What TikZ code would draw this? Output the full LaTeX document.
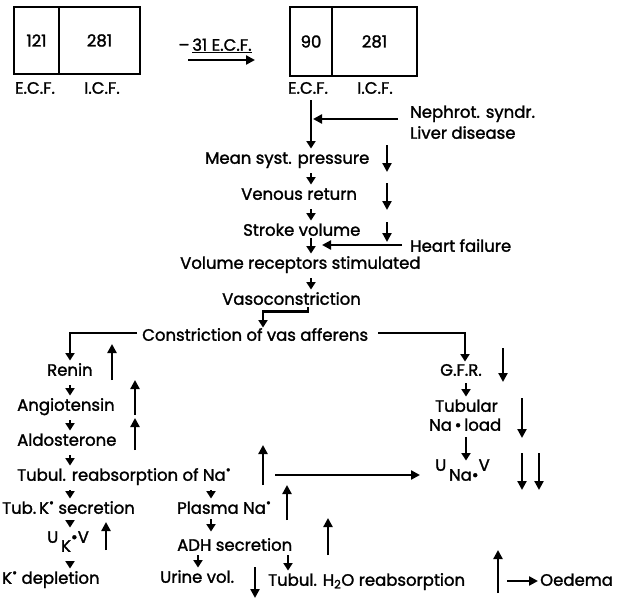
\documentclass[tikz,border=0pt]{standalone}
\usepackage{fontspec}
\setmainfont{Poppins}[FakeBold=1.6]
\usetikzlibrary{arrows.meta}
\newcommand\mydot{\raisebox{0.75ex}{\scalebox{0.75}{\textbullet}}}
\newcommand\fs{\fontsize{16.5}{19}\selectfont}
\tikzset{
  txt/.style={inner sep=0pt, anchor=west, text height=15pt, text depth=3.5pt, font=\fs},
  lab/.style={txt, anchor=center},
  comp/.style={draw, line width=2pt, inner sep=0pt, font=\fs},
  con/.style={line width=2.6pt, -{Triangle[length=7.5pt,width=9pt]}, shorten <=6pt},
  ind/.style={line width=2.6pt, -{Triangle[length=9pt,width=9pt]}},
  longarr/.style={line width=2.4pt, -{Triangle[length=9pt,width=9pt]}},
}
\begin{document}
\begin{tikzpicture}[x=1pt,y=-1pt]
\useasboundingbox (0,0) rectangle (618,599);
% top boxes
\node[comp, minimum width=45pt, minimum height=67pt] (e1) at (36.5,40.5) {121};
\node[comp, minimum width=81pt, minimum height=67pt] (i1) at (99.5,40.5) {281};
\node[lab] (e1l) at (35,88) {E.C.F.};
\node[lab] (i1l) at (102,88) {I.C.F.};
\node[lab] (shift) at (215,45) {--\,\underline{31 E.C.F.}};
\coordinate (sa) at (188,60);
\coordinate (sb) at (255,60);
\draw[longarr] (sa) -- (sb);
\node[comp, minimum width=42pt, minimum height=69pt] (e2) at (311,41.5) {90};
\node[comp, minimum width=85pt, minimum height=69pt] (i2) at (374.5,41.5) {281};
\node[lab] (e2l) at (308,88) {E.C.F.};
\node[lab] (i2l) at (375,88) {I.C.F.};
% column coordinates
\coordinate (cm) at (311,0);
\coordinate (cv) at (308,0);
\coordinate (ca) at (263,0);
\coordinate (cl) at (70,0);
\coordinate (cg) at (465,0);
\coordinate (cg2) at (466,0);
\coordinate (cp) at (211,0);
\coordinate (cu) at (198,0);
\coordinate (ch) at (288,0);
% text nodes
\node[txt] (nephrot) at (410,112) {Nephrot. syndr.};
\node[txt] (liver) at (410,133) {Liver disease};
\node[txt] (mean) at (205,158) {Mean syst. pressure};
\node[txt] (venous) at (241,194) {Venous return};
\node[txt] (stroke) at (243,230) {Stroke volume};
\node[txt] (heart) at (410,246) {Heart failure};
\node[txt] (volrec) at (180,263) {Volume receptors stimulated};
\node[txt] (vaso) at (222,299) {Vasoconstriction};
\node[txt] (constr) at (142,335) {Constriction of vas afferens};
\node[txt] (renin) at (47,370) {Renin};
\node[txt] (angio) at (17,405) {Angiotensin};
\node[txt] (aldo) at (17,440) {Aldosterone};
\node[txt] (tubreab) at (17,475) {Tubul. reabsorption of Na\mydot};
\node[txt] (gfr) at (440,370) {G.F.R.};
\node[txt] (tubular) at (435,406) {Tubular};
\node[txt] (naload) at (429,425) {Na\,\textbullet\,load};
\node[txt] (una) at (435,465) {U\,\raisebox{-1.1ex}{Na\textbullet}V};
\node[txt] (tubk) at (2,508) {Tub.\,K\mydot\ secretion};
\node[txt] (uk) at (47,537) {U\,\raisebox{-1.0ex}{K}\textbullet V};
\node[txt] (kdep) at (2,578) {K\mydot\ depletion};
\node[txt] (plasma) at (177,508) {Plasma Na\mydot};
\node[txt] (adh) at (177,545) {ADH secretion};
\node[txt] (urine) at (160,577) {Urine vol.};
\node[txt] (tubh2o) at (268,580) {Tubul. H\textsubscript{2}O reabsorption};
\node[txt] (oedema) at (540,580) {Oedema};
% connectors, main column
\draw[con, shorten <=3pt] (e2l.south -| cm) -- (mean.north -| cm);
\coordinate (nj) at (313,119);
\draw[longarr] ([xshift=-12pt,yshift=-7pt]nephrot.west) -- (nj);
\draw[con] (mean.south -| cm) -- (venous.north -| cm);
\draw[con] (venous.south -| cm) -- (stroke.north -| cm);
\draw[con, shorten <=-1pt] (stroke.south -| cm) -- (volrec.north -| cm);
\coordinate (hj) at (322,245);
\draw[longarr] ([xshift=-8pt,yshift=1pt]heart.west) -- (hj);
\draw[con] (volrec.south -| cm) -- (vaso.north -| cm);
\draw[con, shorten <=-1pt, shorten >=-2pt] (vaso.south -| cv) -- ++(0,3) -| (constr.north -| ca);
% branches
\draw[con, shorten <=0pt] ([xshift=-5pt,yshift=2pt]constr.west) -| (renin.north -| cl);
\draw[con, shorten <=0pt, shorten >=-1pt] ([xshift=10pt,yshift=2pt]constr.east) -| (gfr.north -| cg);
% left column
\draw[con] (renin.south -| cl) -- (angio.north -| cl);
\draw[con] (angio.south -| cl) -- (aldo.north -| cl);
\draw[con] (aldo.south -| cl) -- (tubreab.north -| cl);
\draw[con] (tubreab.south -| cl) -- (tubk.north -| cl);
\draw[con, shorten <=3pt] (tubk.south -| cl) -- (uk.north -| cl);
\draw[con, shorten <=16pt] (uk.south -| cl) -- (kdep.north -| cl);
% middle column
\draw[con] (tubreab.south -| cp) -- (plasma.north -| cp);
\draw[con, shorten <=2pt, shorten >=4pt] (plasma.south -| cp) -- (adh.north -| cp);
\draw[con, shorten <=1pt] (adh.south -| cu) -- (urine.north -| cu);
\draw[con, shorten <=1pt] (adh.south -| ch) -- (tubh2o.north -| ch);
% right column
\draw[con, shorten <=4pt] (gfr.south -| cg2) -- (tubular.north -| cg2);
\draw[con, shorten <=3pt, shorten >=-5pt] (naload.south -| cg2) -- (una.north -| cg2);
\coordinate (ls) at (275,475);
\draw[longarr, shorten >=15pt] (ls) -- (ls -| una.west);
\coordinate (o1) at (507,581);
\draw[longarr, shorten >=2pt] (o1) -- (o1 -| oedema.west);
% indicator arrows
\draw[ind] (387,145) -- (387,172);
\draw[ind] (387,183) -- (387,210);
\draw[ind] (387,222) -- (387,242);
\draw[ind] (112,380) -- (112,344);
\draw[ind] (135,415) -- (135,380);
\draw[ind] (135,450) -- (135,418);
\draw[ind] (263,485) -- (263,445);
\draw[ind] (503,348) -- (503,382);
\draw[ind] (522,398) -- (522,438);
\draw[ind] (522,453) -- (522,490);
\draw[ind] (539,453) -- (539,490);
\draw[ind] (106,550) -- (106,522);
\draw[ind] (287,520) -- (287,485);
\draw[ind] (328,555) -- (328,518);
\draw[ind] (255,567) -- (255,598);
\draw[ind] (498,593) -- (498,550);
\end{tikzpicture}
\end{document}
